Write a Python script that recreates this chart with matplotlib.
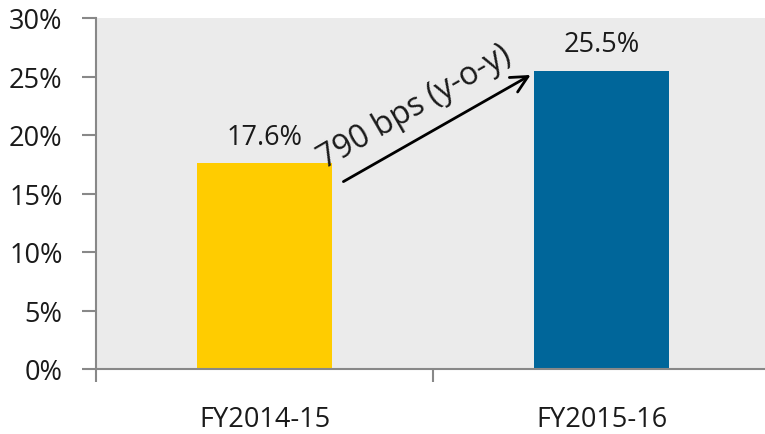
import numpy as np
import matplotlib.pyplot as plt
from matplotlib.ticker import PercentFormatter

# Datos
categorias = ['FY2014-15', 'FY2015-16']
valores = [0.176, 0.255]
etiquetas = ['17.6%', '25.5%']
colores = ['#FFCC00', '#00669A']
texto_flecha = '790 bps (y-o-y)'

plt.rcParams['font.family'] = ['Open Sans', 'DejaVu Sans']

fig = plt.figure(figsize=(7.65, 4.35), dpi=100)
ax = fig.add_axes([96/765, 1-370/435, (770-96)/765, (370-19)/435])
ax.set_facecolor('#EBEBEB')

x = np.arange(len(categorias))
ax.bar(x, valores, width=0.4, color=colores, zorder=2)

# Etiquetas de datos
for xi, v, et in zip(x, valores, etiquetas):
    ax.annotate(et, (xi, v), xytext=(0, 9), textcoords='offset points',
                ha='center', va='bottom', fontsize=19.5, color='#1a1a1a')

# Flecha y texto de crecimiento
ax.annotate('', xy=(0.797, 0.2525), xytext=(0.227, 0.159),
            arrowprops=dict(arrowstyle='->', color='black', lw=2,
                            mutation_scale=30))
ax.text(0.445, 0.224, texto_flecha, rotation=30, rotation_mode='anchor',
        ha='center', va='center', fontsize=23, color='#1a1a1a')

# Ejes
ax.set_xlim(-0.5, 1.5)
ax.set_ylim(0, 0.30)
ax.set_yticks(np.arange(0, 0.301, 0.05))
ax.yaxis.set_major_formatter(PercentFormatter(1.0, decimals=0))
ax.set_xticks(x)
ax.set_xticklabels(categorias)
ax.set_xticks([-0.5, 0.5, 1.5], minor=True)

for s in ['top', 'right']:
    ax.spines[s].set_visible(False)
for s in ['left', 'bottom']:
    ax.spines[s].set_color('#888888')
    ax.spines[s].set_linewidth(1.5)

ax.tick_params(axis='y', length=10, width=1.5, color='#888888', pad=14,
               labelsize=19.5, labelcolor='#1a1a1a')
ax.tick_params(axis='x', which='major', length=0, pad=26,
               labelsize=19.5, labelcolor='#1a1a1a')
ax.tick_params(axis='x', which='minor', length=9, width=1.5, color='#888888')

fig.savefig('out.png', dpi=100)
